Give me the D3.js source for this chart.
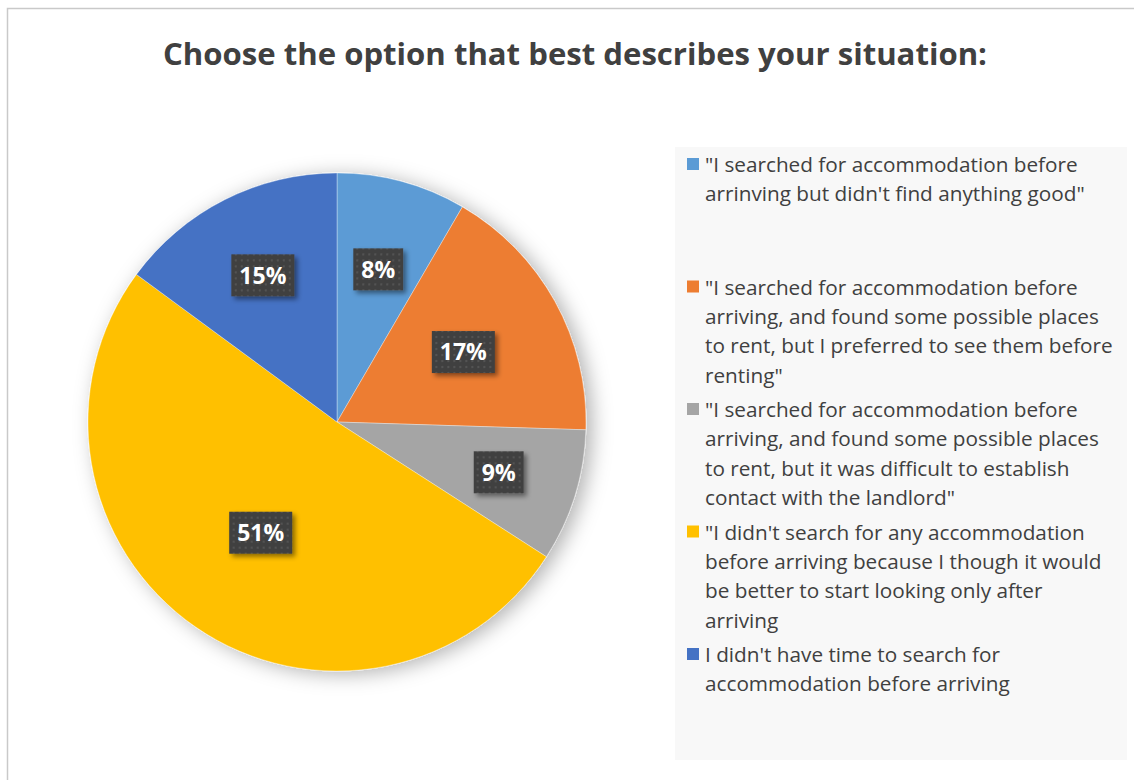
<!DOCTYPE html>
<html>
<head>
<meta charset="utf-8">
<script src="https://cdn.jsdelivr.net/npm/d3@7"></script>
<style>
  body { margin: 0; background: #fff; }
  svg { display: block; font-family: "Open Sans", "Noto Sans", sans-serif; }
</style>
</head>
<body>
<svg width="1134" height="780"></svg>
<script>
var title = "Choose the option that best describes your situation:";

var categories = [
  ["\"I searched for accommodation before", "arrinving but didn't find anything good\""],
  ["\"I searched for accommodation before", "arriving, and found some possible places", "to rent, but I preferred to see them before", "renting\""],
  ["\"I searched for accommodation before", "arriving, and found some possible places", "to rent, but it was difficult to establish", "contact with the landlord\""],
  ["\"I didn't search for any accommodation", "before arriving because I though it would", "be better to start looking only after", "arriving"],
  ["I didn't have time to search for", "accommodation before arriving"]
];
var values = [8.4, 17.1, 8.6, 51.0, 14.9];
var colors = ["#5B9BD5", "#ED7D31", "#A5A5A5", "#FFC000", "#4472C4"];

// best-fit label distance from the centre, as a share of the radius
var labelDist = [0.635, 0.58, 0.68, 0.54, 0.66];

var svg = d3.select("svg"),
    cx = 337, cy = 422, radius = 249;

// chart area border
svg.append("rect")
    .attr("x", 7.5).attr("y", 8.5)
    .attr("width", 1200).attr("height", 900)
    .attr("fill", "#fff")
    .attr("stroke", "#c9c9c9")
    .attr("stroke-width", 1.5);

var defs = svg.append("defs");

var pieShadow = defs.append("filter").attr("id", "pieShadow")
    .attr("x", "-20%").attr("y", "-20%").attr("width", "140%").attr("height", "140%");
pieShadow.append("feDropShadow")
    .attr("dx", 6).attr("dy", 3).attr("stdDeviation", 10)
    .attr("flood-color", "#000").attr("flood-opacity", 0.3);

var boxShadow = defs.append("filter").attr("id", "boxShadow")
    .attr("x", "-30%").attr("y", "-30%").attr("width", "170%").attr("height", "170%");
boxShadow.append("feDropShadow")
    .attr("dx", 3).attr("dy", 3).attr("stdDeviation", 2.5)
    .attr("flood-color", "#000").attr("flood-opacity", 0.45);

var dots = defs.append("pattern").attr("id", "dots")
    .attr("width", 6).attr("height", 6)
    .attr("patternUnits", "userSpaceOnUse");
dots.append("rect").attr("width", 6).attr("height", 6).attr("fill", "#404040");
dots.append("circle").attr("cx", 3).attr("cy", 3).attr("r", 1.2).attr("fill", "#535353");

// title
var titleText = svg.append("text")
    .attr("x", 575).attr("y", 65)
    .attr("text-anchor", "middle")
    .attr("fill", "#404040")
    .style("font-weight", "bold")
    .style("font-size", "30px")
    .text(title);
var tw = titleText.node().getComputedTextLength();
titleText.style("font-size", (30 * 824 / tw) + "px");

// pie
var pie = d3.pie().sort(null).value(function(d) { return d; });
var arc = d3.arc().innerRadius(0).outerRadius(radius);
var arcs = pie(values);

var g = svg.append("g")
    .attr("transform", "translate(" + cx + "," + cy + ")");

g.append("g")
    .attr("filter", "url(#pieShadow)")
  .selectAll("path")
  .data(arcs)
  .enter().append("path")
    .attr("d", arc)
    .attr("fill", function(d, i) { return colors[i]; })
    .attr("stroke", "rgba(255,255,255,0.5)")
    .attr("stroke-width", 0.7);

// data labels
var lab = g.selectAll(".lab")
  .data(arcs)
  .enter().append("g")
    .attr("class", "lab")
    .attr("transform", function(d, i) {
      var r = radius * labelDist[i];
      return "translate(" + d3.arc().innerRadius(r).outerRadius(r).centroid(d) + ")";
    });

lab.append("text")
    .attr("text-anchor", "middle")
    .attr("dy", "0.36em")
    .attr("fill", "#fff")
    .style("font-weight", "bold")
    .style("font-size", "23px")
    .text(function(d) { return Math.round(d.data) + "%"; })
  .each(function() {
    var w = this.getComputedTextLength() + 16;
    d3.select(this.parentNode).insert("rect", "text")
        .attr("x", -w / 2).attr("y", -21)
        .attr("width", w).attr("height", 42)
        .attr("fill", "url(#dots)")
        .attr("filter", "url(#boxShadow)");
  });

// legend
var lx = 675, ly = 147, lw = 452, lh = 613;
svg.append("rect")
    .attr("x", lx).attr("y", ly)
    .attr("width", lw).attr("height", lh)
    .attr("fill", "#f8f8f8");

var lineH = 29.4, step = 122.5;
var legend = svg.selectAll(".legend")
  .data(categories)
  .enter().append("g")
    .attr("class", "legend")
    .attr("transform", function(d, i) { return "translate(" + lx + "," + (ly + 25 + i * step) + ")"; });

legend.append("rect")
    .attr("x", 12).attr("y", -14)
    .attr("width", 12).attr("height", 12)
    .attr("fill", function(d, i) { return colors[i]; });

var legText = legend.append("text")
    .attr("x", 30)
    .attr("fill", "#404040")
    .style("font-size", "20px");
legText.selectAll("tspan")
  .data(function(d) { return d; })
  .enter().append("tspan")
    .attr("x", 30)
    .attr("y", function(d, j) { return j * lineH; })
    .text(function(d) { return d; });

// fit legend font to the reference line width
var probe = legend.filter(function(d, i) { return i === 1; }).select("tspan:nth-child(2)").node();
var pw = probe.getComputedTextLength();
legText.style("font-size", (20 * 394 / pw) + "px");
</script>
</body>
</html>
